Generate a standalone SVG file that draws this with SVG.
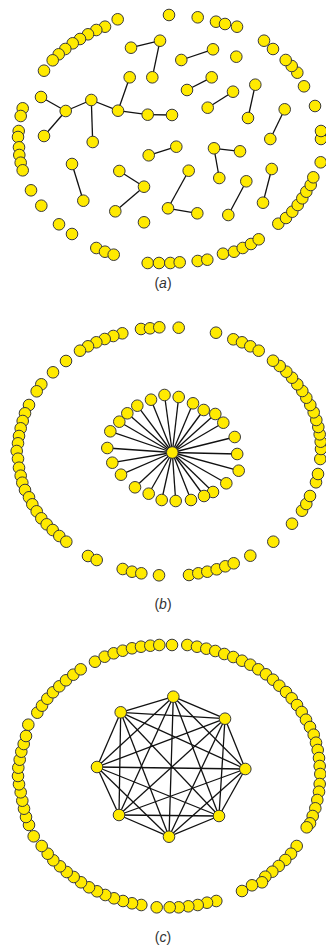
<svg xmlns="http://www.w3.org/2000/svg" width="326" height="950" viewBox="0 0 326 950">
<style>
.n circle{fill:#FFEA00;stroke:#3a3a3a;stroke-width:1}
#edges line{stroke:#111;stroke-width:1.3}
.lbl{font-family:"Liberation Sans",Arial,sans-serif;font-size:14px;fill:#333;text-anchor:middle}
</style>
<rect width="326" height="950" fill="#fff"/>
<g id="edges">
<line x1="131" y1="47.7" x2="160" y2="40.7"/>
<line x1="160" y1="40.7" x2="152.3" y2="77.3"/>
<line x1="129.7" y1="77.3" x2="118" y2="110.7"/>
<line x1="41" y1="97" x2="65.7" y2="111"/>
<line x1="65.7" y1="111" x2="91.3" y2="100"/>
<line x1="65.7" y1="111" x2="44" y2="136"/>
<line x1="91.3" y1="100" x2="118" y2="110.7"/>
<line x1="91.3" y1="100" x2="92.7" y2="142"/>
<line x1="118" y1="110.7" x2="147.7" y2="114.7"/>
<line x1="147.7" y1="114.7" x2="172" y2="115"/>
<line x1="213" y1="49.3" x2="181.3" y2="60"/>
<line x1="211.7" y1="77.3" x2="187" y2="90"/>
<line x1="233" y1="91.7" x2="207.7" y2="107.7"/>
<line x1="255.3" y1="84.7" x2="248" y2="118"/>
<line x1="284.7" y1="109.3" x2="270.3" y2="139"/>
<line x1="72" y1="164" x2="83.3" y2="200.7"/>
<line x1="148.7" y1="155.3" x2="176.3" y2="146.7"/>
<line x1="119.3" y1="171" x2="144" y2="186.7"/>
<line x1="144" y1="186.7" x2="115.3" y2="211.3"/>
<line x1="214" y1="148.3" x2="240" y2="151.3"/>
<line x1="214" y1="148.3" x2="219.3" y2="178"/>
<line x1="188.7" y1="170.7" x2="168" y2="208.3"/>
<line x1="168" y1="208.3" x2="197.3" y2="213.3"/>
<line x1="246.3" y1="181.3" x2="228.3" y2="215"/>
<line x1="271.7" y1="169" x2="263" y2="202.7"/>
<line x1="172.3" y1="452.5" x2="151" y2="399.7"/>
<line x1="172.3" y1="452.5" x2="164.5" y2="395"/>
<line x1="172.3" y1="452.5" x2="178.7" y2="397"/>
<line x1="172.3" y1="452.5" x2="193" y2="403.3"/>
<line x1="172.3" y1="452.5" x2="203.7" y2="410"/>
<line x1="172.3" y1="452.5" x2="215.3" y2="414"/>
<line x1="172.3" y1="452.5" x2="223.3" y2="422.7"/>
<line x1="172.3" y1="452.5" x2="234.7" y2="437"/>
<line x1="172.3" y1="452.5" x2="237.2" y2="454"/>
<line x1="172.3" y1="452.5" x2="238.7" y2="470.7"/>
<line x1="172.3" y1="452.5" x2="226.3" y2="483.3"/>
<line x1="172.3" y1="452.5" x2="213" y2="492"/>
<line x1="172.3" y1="452.5" x2="204" y2="496"/>
<line x1="172.3" y1="452.5" x2="191" y2="500"/>
<line x1="172.3" y1="452.5" x2="175.7" y2="501"/>
<line x1="172.3" y1="452.5" x2="161.7" y2="500"/>
<line x1="172.3" y1="452.5" x2="148.7" y2="493.7"/>
<line x1="172.3" y1="452.5" x2="135" y2="487.3"/>
<line x1="172.3" y1="452.5" x2="121" y2="474.7"/>
<line x1="172.3" y1="452.5" x2="112.3" y2="462.7"/>
<line x1="172.3" y1="452.5" x2="107.3" y2="448"/>
<line x1="172.3" y1="452.5" x2="110.3" y2="431.3"/>
<line x1="172.3" y1="452.5" x2="119.3" y2="421.7"/>
<line x1="172.3" y1="452.5" x2="127.3" y2="413.3"/>
<line x1="172.3" y1="452.5" x2="137.3" y2="405.7"/>
<line x1="173.3" y1="696.7" x2="225" y2="718.7"/>
<line x1="173.3" y1="696.7" x2="245.3" y2="769"/>
<line x1="173.3" y1="696.7" x2="219" y2="816"/>
<line x1="173.3" y1="696.7" x2="169" y2="836.7"/>
<line x1="173.3" y1="696.7" x2="119" y2="815"/>
<line x1="173.3" y1="696.7" x2="97" y2="767"/>
<line x1="173.3" y1="696.7" x2="120.7" y2="712.3"/>
<line x1="225" y1="718.7" x2="245.3" y2="769"/>
<line x1="225" y1="718.7" x2="219" y2="816"/>
<line x1="225" y1="718.7" x2="169" y2="836.7"/>
<line x1="225" y1="718.7" x2="119" y2="815"/>
<line x1="225" y1="718.7" x2="97" y2="767"/>
<line x1="225" y1="718.7" x2="120.7" y2="712.3"/>
<line x1="245.3" y1="769" x2="219" y2="816"/>
<line x1="245.3" y1="769" x2="169" y2="836.7"/>
<line x1="245.3" y1="769" x2="119" y2="815"/>
<line x1="245.3" y1="769" x2="97" y2="767"/>
<line x1="245.3" y1="769" x2="120.7" y2="712.3"/>
<line x1="219" y1="816" x2="169" y2="836.7"/>
<line x1="219" y1="816" x2="119" y2="815"/>
<line x1="219" y1="816" x2="97" y2="767"/>
<line x1="219" y1="816" x2="120.7" y2="712.3"/>
<line x1="169" y1="836.7" x2="119" y2="815"/>
<line x1="169" y1="836.7" x2="97" y2="767"/>
<line x1="169" y1="836.7" x2="120.7" y2="712.3"/>
<line x1="119" y1="815" x2="97" y2="767"/>
<line x1="119" y1="815" x2="120.7" y2="712.3"/>
<line x1="97" y1="767" x2="120.7" y2="712.3"/>
</g>
<g id="nodes-a" class="n">
<g id="a1"><circle cx="117.7" cy="19.3" r="5.8"/></g>
<g id="a2"><circle cx="105" cy="26.7" r="5.8"/></g>
<g id="a3"><circle cx="96.3" cy="30" r="5.8"/></g>
<g id="a4"><circle cx="88" cy="34.3" r="5.8"/></g>
<g id="a5"><circle cx="80" cy="39" r="5.8"/></g>
<g id="a6"><circle cx="72.7" cy="43.3" r="5.8"/></g>
<g id="a7"><circle cx="65.3" cy="49" r="5.8"/></g>
<g id="a8"><circle cx="58.7" cy="54.3" r="5.8"/></g>
<g id="a9"><circle cx="52.7" cy="60.3" r="5.8"/></g>
<g id="a10"><circle cx="44" cy="70.7" r="5.8"/></g>
<g id="a11"><circle cx="22.7" cy="108.3" r="5.8"/></g>
<g id="a12"><circle cx="20.7" cy="116" r="5.8"/></g>
<g id="a13"><circle cx="18.7" cy="131" r="5.8"/></g>
<g id="a14"><circle cx="18" cy="137" r="5.8"/></g>
<g id="a15"><circle cx="19" cy="147.3" r="5.8"/></g>
<g id="a16"><circle cx="19.3" cy="155" r="5.8"/></g>
<g id="a17"><circle cx="20.7" cy="162.7" r="5.8"/></g>
<g id="a18"><circle cx="22.7" cy="170.3" r="5.8"/></g>
<g id="a19"><circle cx="31" cy="190.3" r="5.8"/></g>
<g id="a20"><circle cx="41.3" cy="205.7" r="5.8"/></g>
<g id="a21"><circle cx="59" cy="224.3" r="5.8"/></g>
<g id="a22"><circle cx="72" cy="234" r="5.8"/></g>
<g id="a23"><circle cx="96.3" cy="248" r="5.8"/></g>
<g id="a24"><circle cx="105" cy="251.7" r="5.8"/></g>
<g id="a25"><circle cx="113.7" cy="254.7" r="5.8"/></g>
<g id="a26"><circle cx="147.7" cy="263" r="5.8"/></g>
<g id="a27"><circle cx="159" cy="263" r="5.8"/></g>
<g id="a28"><circle cx="170.3" cy="263" r="5.8"/></g>
<g id="a29"><circle cx="179.7" cy="262.3" r="5.8"/></g>
<g id="a30"><circle cx="197.7" cy="261" r="5.8"/></g>
<g id="a31"><circle cx="207.3" cy="259.7" r="5.8"/></g>
<g id="a32"><circle cx="223" cy="253.7" r="5.8"/></g>
<g id="a33"><circle cx="234" cy="251.7" r="5.8"/></g>
<g id="a34"><circle cx="242.7" cy="248" r="5.8"/></g>
<g id="a35"><circle cx="251" cy="244" r="5.8"/></g>
<g id="a36"><circle cx="258.7" cy="239.3" r="5.8"/></g>
<g id="a37"><circle cx="278.3" cy="223.7" r="5.8"/></g>
<g id="a38"><circle cx="286" cy="218" r="5.8"/></g>
<g id="a39"><circle cx="292.3" cy="211.7" r="5.8"/></g>
<g id="a40"><circle cx="297.7" cy="205" r="5.8"/></g>
<g id="a41"><circle cx="302.3" cy="198.3" r="5.8"/></g>
<g id="a42"><circle cx="306.3" cy="191.7" r="5.8"/></g>
<g id="a43"><circle cx="310.7" cy="185" r="5.8"/></g>
<g id="a44"><circle cx="313.3" cy="177.3" r="5.8"/></g>
<g id="a45"><circle cx="320.7" cy="162.3" r="5.8"/></g>
<g id="a46"><circle cx="321" cy="139" r="5.8"/></g>
<g id="a47"><circle cx="321" cy="131" r="5.8"/></g>
<g id="a48"><circle cx="315" cy="106" r="5.8"/></g>
<g id="a49"><circle cx="304" cy="86.3" r="5.8"/></g>
<g id="a50"><circle cx="297.3" cy="72.7" r="5.8"/></g>
<g id="a51"><circle cx="291.7" cy="66" r="5.8"/></g>
<g id="a52"><circle cx="285.7" cy="60" r="5.8"/></g>
<g id="a53"><circle cx="273" cy="49" r="5.8"/></g>
<g id="a54"><circle cx="264" cy="40.7" r="5.8"/></g>
<g id="a55"><circle cx="169" cy="15" r="5.8"/></g>
<g id="a56"><circle cx="197.7" cy="17.3" r="5.8"/></g>
<g id="a57"><circle cx="216" cy="21.7" r="5.8"/></g>
<g id="a58"><circle cx="225" cy="24" r="5.8"/></g>
<g id="a59"><circle cx="237" cy="26.7" r="5.8"/></g>
<g id="a60"><circle cx="131" cy="47.7" r="5.8"/></g>
<g id="a61"><circle cx="160" cy="40.7" r="5.8"/></g>
<g id="a62"><circle cx="152.3" cy="77.3" r="5.8"/></g>
<g id="a63"><circle cx="129.7" cy="77.3" r="5.8"/></g>
<g id="a64"><circle cx="41" cy="97" r="5.8"/></g>
<g id="a65"><circle cx="65.7" cy="111" r="5.8"/></g>
<g id="a66"><circle cx="91.3" cy="100" r="5.8"/></g>
<g id="a67"><circle cx="118" cy="110.7" r="5.8"/></g>
<g id="a68"><circle cx="147.7" cy="114.7" r="5.8"/></g>
<g id="a69"><circle cx="172" cy="115" r="5.8"/></g>
<g id="a70"><circle cx="44" cy="136" r="5.8"/></g>
<g id="a71"><circle cx="92.7" cy="142" r="5.8"/></g>
<g id="a72"><circle cx="213" cy="49.3" r="5.8"/></g>
<g id="a73"><circle cx="181.3" cy="60" r="5.8"/></g>
<g id="a74"><circle cx="236.3" cy="56.7" r="5.8"/></g>
<g id="a75"><circle cx="211.7" cy="77.3" r="5.8"/></g>
<g id="a76"><circle cx="187" cy="90" r="5.8"/></g>
<g id="a77"><circle cx="233" cy="91.7" r="5.8"/></g>
<g id="a78"><circle cx="207.7" cy="107.7" r="5.8"/></g>
<g id="a79"><circle cx="255.3" cy="84.7" r="5.8"/></g>
<g id="a80"><circle cx="248" cy="118" r="5.8"/></g>
<g id="a81"><circle cx="284.7" cy="109.3" r="5.8"/></g>
<g id="a82"><circle cx="270.3" cy="139" r="5.8"/></g>
<g id="a83"><circle cx="72" cy="164" r="5.8"/></g>
<g id="a84"><circle cx="83.3" cy="200.7" r="5.8"/></g>
<g id="a85"><circle cx="148.7" cy="155.3" r="5.8"/></g>
<g id="a86"><circle cx="176.3" cy="146.7" r="5.8"/></g>
<g id="a87"><circle cx="119.3" cy="171" r="5.8"/></g>
<g id="a88"><circle cx="144" cy="186.7" r="5.8"/></g>
<g id="a89"><circle cx="115.3" cy="211.3" r="5.8"/></g>
<g id="a90"><circle cx="144" cy="222.3" r="5.8"/></g>
<g id="a91"><circle cx="214" cy="148.3" r="5.8"/></g>
<g id="a92"><circle cx="240" cy="151.3" r="5.8"/></g>
<g id="a93"><circle cx="219.3" cy="178" r="5.8"/></g>
<g id="a94"><circle cx="188.7" cy="170.7" r="5.8"/></g>
<g id="a95"><circle cx="168" cy="208.3" r="5.8"/></g>
<g id="a96"><circle cx="197.3" cy="213.3" r="5.8"/></g>
<g id="a97"><circle cx="246.3" cy="181.3" r="5.8"/></g>
<g id="a98"><circle cx="228.3" cy="215" r="5.8"/></g>
<g id="a99"><circle cx="271.7" cy="169" r="5.8"/></g>
<g id="a100"><circle cx="263" cy="202.7" r="5.8"/></g>
</g>
<g id="nodes-b" class="n">
<g id="b1"><circle cx="141" cy="329" r="5.8"/></g>
<g id="b2"><circle cx="150" cy="328.3" r="5.8"/></g>
<g id="b3"><circle cx="159.3" cy="327.3" r="5.8"/></g>
<g id="b4"><circle cx="178.7" cy="327.7" r="5.8"/></g>
<g id="b5"><circle cx="216" cy="332.7" r="5.8"/></g>
<g id="b6"><circle cx="122.3" cy="333.3" r="5.8"/></g>
<g id="b7"><circle cx="113.3" cy="336" r="5.8"/></g>
<g id="b8"><circle cx="104.7" cy="339" r="5.8"/></g>
<g id="b9"><circle cx="96.3" cy="342.3" r="5.8"/></g>
<g id="b10"><circle cx="88" cy="346.3" r="5.8"/></g>
<g id="b11"><circle cx="80" cy="350.7" r="5.8"/></g>
<g id="b12"><circle cx="66" cy="361" r="5.8"/></g>
<g id="b13"><circle cx="53" cy="372.3" r="5.8"/></g>
<g id="b14"><circle cx="41.3" cy="384.3" r="5.8"/></g>
<g id="b15"><circle cx="36.7" cy="391.3" r="5.8"/></g>
<g id="b16"><circle cx="29" cy="405" r="5.8"/></g>
<g id="b17"><circle cx="25" cy="413.3" r="5.8"/></g>
<g id="b18"><circle cx="22.7" cy="421" r="5.8"/></g>
<g id="b19"><circle cx="20.7" cy="428.3" r="5.8"/></g>
<g id="b20"><circle cx="19" cy="436" r="5.8"/></g>
<g id="b21"><circle cx="18" cy="443.3" r="5.8"/></g>
<g id="b22"><circle cx="16.7" cy="451" r="5.8"/></g>
<g id="b23"><circle cx="18" cy="458.7" r="5.8"/></g>
<g id="b24"><circle cx="19" cy="467.7" r="5.8"/></g>
<g id="b25"><circle cx="20.7" cy="475.7" r="5.8"/></g>
<g id="b26"><circle cx="22.3" cy="482.7" r="5.8"/></g>
<g id="b27"><circle cx="25" cy="490" r="5.8"/></g>
<g id="b28"><circle cx="29" cy="497.3" r="5.8"/></g>
<g id="b29"><circle cx="32.3" cy="504.3" r="5.8"/></g>
<g id="b30"><circle cx="36.7" cy="511.3" r="5.8"/></g>
<g id="b31"><circle cx="41.3" cy="518.3" r="5.8"/></g>
<g id="b32"><circle cx="46.7" cy="524.3" r="5.8"/></g>
<g id="b33"><circle cx="52.7" cy="530" r="5.8"/></g>
<g id="b34"><circle cx="59.3" cy="536" r="5.8"/></g>
<g id="b35"><circle cx="66.3" cy="541.7" r="5.8"/></g>
<g id="b36"><circle cx="88" cy="556" r="5.8"/></g>
<g id="b37"><circle cx="96.7" cy="560" r="5.8"/></g>
<g id="b38"><circle cx="122.7" cy="569" r="5.8"/></g>
<g id="b39"><circle cx="132" cy="571.7" r="5.8"/></g>
<g id="b40"><circle cx="141.3" cy="573.3" r="5.8"/></g>
<g id="b41"><circle cx="159" cy="575.3" r="5.8"/></g>
<g id="b42"><circle cx="189" cy="575" r="5.8"/></g>
<g id="b43"><circle cx="198.3" cy="573.3" r="5.8"/></g>
<g id="b44"><circle cx="207.3" cy="571.7" r="5.8"/></g>
<g id="b45"><circle cx="216.7" cy="569.3" r="5.8"/></g>
<g id="b46"><circle cx="225.3" cy="566.3" r="5.8"/></g>
<g id="b47"><circle cx="233.7" cy="563.3" r="5.8"/></g>
<g id="b48"><circle cx="250.3" cy="555.7" r="5.8"/></g>
<g id="b49"><circle cx="273.3" cy="541.7" r="5.8"/></g>
<g id="b50"><circle cx="292" cy="523.7" r="5.8"/></g>
<g id="b51"><circle cx="302" cy="510.7" r="5.8"/></g>
<g id="b52"><circle cx="306.3" cy="504" r="5.8"/></g>
<g id="b53"><circle cx="310" cy="496" r="5.8"/></g>
<g id="b54"><circle cx="316" cy="482.3" r="5.8"/></g>
<g id="b55"><circle cx="318" cy="474" r="5.8"/></g>
<g id="b56"><circle cx="320.3" cy="459" r="5.8"/></g>
<g id="b57"><circle cx="321" cy="449" r="5.8"/></g>
<g id="b58"><circle cx="320.7" cy="441.7" r="5.8"/></g>
<g id="b59"><circle cx="319.7" cy="434.3" r="5.8"/></g>
<g id="b60"><circle cx="318.3" cy="427" r="5.8"/></g>
<g id="b61"><circle cx="316.3" cy="420" r="5.8"/></g>
<g id="b62"><circle cx="313.7" cy="412.3" r="5.8"/></g>
<g id="b63"><circle cx="310.3" cy="405" r="5.8"/></g>
<g id="b64"><circle cx="306.3" cy="397.7" r="5.8"/></g>
<g id="b65"><circle cx="302.3" cy="391" r="5.8"/></g>
<g id="b66"><circle cx="297.3" cy="384.3" r="5.8"/></g>
<g id="b67"><circle cx="292" cy="377.7" r="5.8"/></g>
<g id="b68"><circle cx="286.3" cy="371.7" r="5.8"/></g>
<g id="b69"><circle cx="279.7" cy="366" r="5.8"/></g>
<g id="b70"><circle cx="273" cy="360.7" r="5.8"/></g>
<g id="b71"><circle cx="233.3" cy="339.3" r="5.8"/></g>
<g id="b72"><circle cx="242" cy="342.3" r="5.8"/></g>
<g id="b73"><circle cx="250.3" cy="346.3" r="5.8"/></g>
<g id="b74"><circle cx="258.7" cy="350.7" r="5.8"/></g>
<g id="s1"><circle cx="151" cy="399.7" r="5.8"/></g>
<g id="s2"><circle cx="164.5" cy="395" r="5.8"/></g>
<g id="s3"><circle cx="178.7" cy="397" r="5.8"/></g>
<g id="s4"><circle cx="193" cy="403.3" r="5.8"/></g>
<g id="s5"><circle cx="203.7" cy="410" r="5.8"/></g>
<g id="s6"><circle cx="215.3" cy="414" r="5.8"/></g>
<g id="s7"><circle cx="223.3" cy="422.7" r="5.8"/></g>
<g id="s8"><circle cx="234.7" cy="437" r="5.8"/></g>
<g id="s9"><circle cx="237.2" cy="454" r="5.8"/></g>
<g id="s10"><circle cx="238.7" cy="470.7" r="5.8"/></g>
<g id="s11"><circle cx="226.3" cy="483.3" r="5.8"/></g>
<g id="s12"><circle cx="213" cy="492" r="5.8"/></g>
<g id="s13"><circle cx="204" cy="496" r="5.8"/></g>
<g id="s14"><circle cx="191" cy="500" r="5.8"/></g>
<g id="s15"><circle cx="175.7" cy="501" r="5.8"/></g>
<g id="s16"><circle cx="161.7" cy="500" r="5.8"/></g>
<g id="s17"><circle cx="148.7" cy="493.7" r="5.8"/></g>
<g id="s18"><circle cx="135" cy="487.3" r="5.8"/></g>
<g id="s19"><circle cx="121" cy="474.7" r="5.8"/></g>
<g id="s20"><circle cx="112.3" cy="462.7" r="5.8"/></g>
<g id="s21"><circle cx="107.3" cy="448" r="5.8"/></g>
<g id="s22"><circle cx="110.3" cy="431.3" r="5.8"/></g>
<g id="s23"><circle cx="119.3" cy="421.7" r="5.8"/></g>
<g id="s24"><circle cx="127.3" cy="413.3" r="5.8"/></g>
<g id="s25"><circle cx="137.3" cy="405.7" r="5.8"/></g>
<g id="s0"><circle cx="172.3" cy="452.5" r="5.8"/></g>
</g>
<g id="nodes-c" class="n">
<g id="c1"><circle cx="95" cy="661.7" r="5.8"/></g>
<g id="c2"><circle cx="104.7" cy="656.7" r="5.8"/></g>
<g id="c3"><circle cx="113.7" cy="653.3" r="5.8"/></g>
<g id="c4"><circle cx="122.7" cy="650.7" r="5.8"/></g>
<g id="c5"><circle cx="132" cy="648.3" r="5.8"/></g>
<g id="c6"><circle cx="141" cy="646.7" r="5.8"/></g>
<g id="c7"><circle cx="150.3" cy="645.7" r="5.8"/></g>
<g id="c8"><circle cx="159.3" cy="645" r="5.8"/></g>
<g id="c9"><circle cx="172" cy="645" r="5.8"/></g>
<g id="c10"><circle cx="187.3" cy="645" r="5.8"/></g>
<g id="c11"><circle cx="197" cy="646.7" r="5.8"/></g>
<g id="c12"><circle cx="206.3" cy="648.7" r="5.8"/></g>
<g id="c13"><circle cx="215.3" cy="651" r="5.8"/></g>
<g id="c14"><circle cx="224.3" cy="654" r="5.8"/></g>
<g id="c15"><circle cx="233.3" cy="657" r="5.8"/></g>
<g id="c16"><circle cx="242" cy="660.7" r="5.8"/></g>
<g id="c17"><circle cx="250.3" cy="664.7" r="5.8"/></g>
<g id="c18"><circle cx="258.3" cy="669.3" r="5.8"/></g>
<g id="c19"><circle cx="266" cy="674.3" r="5.8"/></g>
<g id="c20"><circle cx="273" cy="679.7" r="5.8"/></g>
<g id="c21"><circle cx="279.3" cy="685.7" r="5.8"/></g>
<g id="c22"><circle cx="286" cy="692" r="5.8"/></g>
<g id="c23"><circle cx="291.7" cy="698.3" r="5.8"/></g>
<g id="c24"><circle cx="297" cy="705" r="5.8"/></g>
<g id="c25"><circle cx="301.7" cy="712" r="5.8"/></g>
<g id="c26"><circle cx="306" cy="719.7" r="5.8"/></g>
<g id="c27"><circle cx="310" cy="727" r="5.8"/></g>
<g id="c28"><circle cx="313.7" cy="734.7" r="5.8"/></g>
<g id="c29"><circle cx="316" cy="742.7" r="5.8"/></g>
<g id="c30"><circle cx="317.7" cy="750" r="5.8"/></g>
<g id="c31"><circle cx="319" cy="758" r="5.8"/></g>
<g id="c32"><circle cx="319.7" cy="766" r="5.8"/></g>
<g id="c33"><circle cx="320.3" cy="774" r="5.8"/></g>
<g id="c34"><circle cx="319.7" cy="784" r="5.8"/></g>
<g id="c35"><circle cx="319" cy="791.7" r="5.8"/></g>
<g id="c36"><circle cx="317.3" cy="800" r="5.8"/></g>
<g id="c37"><circle cx="315.3" cy="808.3" r="5.8"/></g>
<g id="c38"><circle cx="312.7" cy="816" r="5.8"/></g>
<g id="c39"><circle cx="310" cy="823.3" r="5.8"/></g>
<g id="c40"><circle cx="306.7" cy="827.3" r="5.8"/></g>
<g id="c41"><circle cx="296.7" cy="846" r="5.8"/></g>
<g id="c42"><circle cx="291" cy="853.7" r="5.8"/></g>
<g id="c43"><circle cx="285.3" cy="860" r="5.8"/></g>
<g id="c44"><circle cx="278.7" cy="866" r="5.8"/></g>
<g id="c45"><circle cx="272.3" cy="871.7" r="5.8"/></g>
<g id="c46"><circle cx="265.3" cy="876.7" r="5.8"/></g>
<g id="c47"><circle cx="262" cy="882.3" r="5.8"/></g>
<g id="c48"><circle cx="252" cy="885.3" r="5.8"/></g>
<g id="c49"><circle cx="242" cy="891" r="5.8"/></g>
<g id="c50"><circle cx="216.3" cy="901" r="5.8"/></g>
<g id="c51"><circle cx="207" cy="902.7" r="5.8"/></g>
<g id="c52"><circle cx="197.7" cy="905" r="5.8"/></g>
<g id="c53"><circle cx="188.3" cy="906.3" r="5.8"/></g>
<g id="c54"><circle cx="178.7" cy="907.3" r="5.8"/></g>
<g id="c55"><circle cx="169.7" cy="907.3" r="5.8"/></g>
<g id="c56"><circle cx="156.7" cy="907.3" r="5.8"/></g>
<g id="c57"><circle cx="141.3" cy="905" r="5.8"/></g>
<g id="c58"><circle cx="132" cy="903.3" r="5.8"/></g>
<g id="c59"><circle cx="123" cy="901" r="5.8"/></g>
<g id="c60"><circle cx="114" cy="898.3" r="5.8"/></g>
<g id="c61"><circle cx="105.3" cy="895" r="5.8"/></g>
<g id="c62"><circle cx="97" cy="891.3" r="5.8"/></g>
<g id="c63"><circle cx="89" cy="887.3" r="5.8"/></g>
<g id="c64"><circle cx="81" cy="882.3" r="5.8"/></g>
<g id="c65"><circle cx="73.7" cy="877" r="5.8"/></g>
<g id="c66"><circle cx="66.7" cy="872" r="5.8"/></g>
<g id="c67"><circle cx="60" cy="866.3" r="5.8"/></g>
<g id="c68"><circle cx="53.3" cy="860.3" r="5.8"/></g>
<g id="c69"><circle cx="47.7" cy="853.7" r="5.8"/></g>
<g id="c70"><circle cx="41.7" cy="846" r="5.8"/></g>
<g id="c71"><circle cx="33.7" cy="836.3" r="5.8"/></g>
<g id="c72"><circle cx="29" cy="825" r="5.8"/></g>
<g id="c73"><circle cx="26" cy="817" r="5.8"/></g>
<g id="c74"><circle cx="24" cy="808.7" r="5.8"/></g>
<g id="c75"><circle cx="22.3" cy="800.7" r="5.8"/></g>
<g id="c76"><circle cx="20.7" cy="792.3" r="5.8"/></g>
<g id="c77"><circle cx="19" cy="784.3" r="5.8"/></g>
<g id="c78"><circle cx="18" cy="776" r="5.8"/></g>
<g id="c79"><circle cx="18.3" cy="767.7" r="5.8"/></g>
<g id="c80"><circle cx="19.7" cy="759.7" r="5.8"/></g>
<g id="c81"><circle cx="21.3" cy="751.7" r="5.8"/></g>
<g id="c82"><circle cx="23.7" cy="744" r="5.8"/></g>
<g id="c83"><circle cx="26" cy="736" r="5.8"/></g>
<g id="c84"><circle cx="28.3" cy="724.7" r="5.8"/></g>
<g id="c85"><circle cx="37.3" cy="712.7" r="5.8"/></g>
<g id="c86"><circle cx="42" cy="705.7" r="5.8"/></g>
<g id="c87"><circle cx="47.3" cy="698.7" r="5.8"/></g>
<g id="c88"><circle cx="53" cy="692.3" r="5.8"/></g>
<g id="c89"><circle cx="59.3" cy="686.3" r="5.8"/></g>
<g id="c90"><circle cx="66" cy="680.3" r="5.8"/></g>
<g id="c91"><circle cx="73.3" cy="674.7" r="5.8"/></g>
<g id="c92"><circle cx="80.7" cy="669.3" r="5.8"/></g>
<g id="k1"><circle cx="173.3" cy="696.7" r="5.8"/></g>
<g id="k2"><circle cx="225" cy="718.7" r="5.8"/></g>
<g id="k3"><circle cx="245.3" cy="769" r="5.8"/></g>
<g id="k4"><circle cx="219" cy="816" r="5.8"/></g>
<g id="k5"><circle cx="169" cy="836.7" r="5.8"/></g>
<g id="k6"><circle cx="119" cy="815" r="5.8"/></g>
<g id="k7"><circle cx="97" cy="767" r="5.8"/></g>
<g id="k8"><circle cx="120.7" cy="712.3" r="5.8"/></g>
</g>
<g id="labels">
<text class="lbl" x="163" y="288">(<tspan font-style="italic">a</tspan>)</text>
<text class="lbl" x="163" y="609">(<tspan font-style="italic">b</tspan>)</text>
<text class="lbl" x="163" y="942">(<tspan font-style="italic">c</tspan>)</text>
</g>
</svg>
